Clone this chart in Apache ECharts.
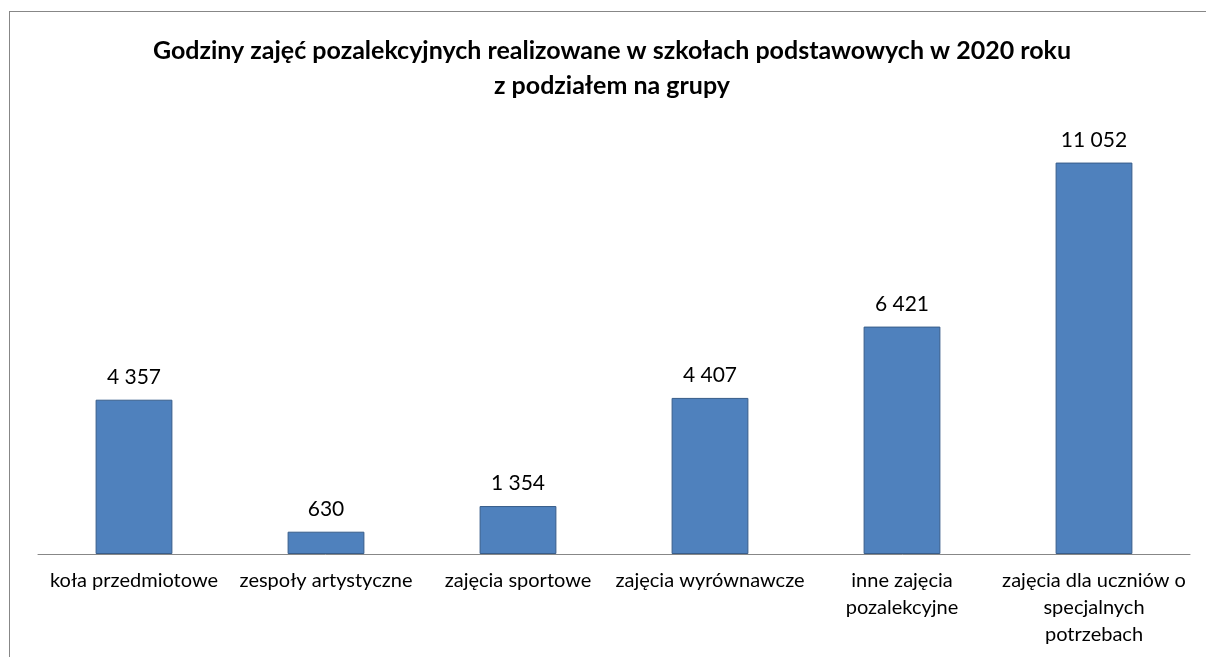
<!DOCTYPE html>
<html>
<head>
<meta charset="utf-8">
<script src="https://cdn.jsdelivr.net/npm/echarts@6/dist/echarts.min.js"></script>
<style>
  html, body { margin: 0; padding: 0; background: #fff; }
  #frame {
    position: absolute; left: 9px; top: 11px; width: 1220px; height: 700px;
    border: 1px solid #878787; box-sizing: border-box;
  }
  #chart { position: absolute; left: 0; top: 0; width: 1206px; height: 657px; }
</style>
</head>
<body>
<div id="frame"></div>
<div id="chart"></div>
<script>
var categories = ['koła przedmiotowe', 'zespoły artystyczne', 'zajęcia sportowe',
  'zajęcia wyrównawcze', 'inne zajęcia\npozalekcyjne', 'zajęcia dla uczniów o\nspecjalnych\npotrzebach'];
var hours = [4357, 630, 1354, 4407, 6421, 11052];

var titleText = 'Godziny zajęć pozalekcyjnych realizowane w szkołach podstawowych w 2020 roku\nz podziałem na grupy';
var fontName = 'Lato, "Open Sans", sans-serif';

function fmt(v) {
  return String(v).replace(/\B(?=(\d{3})+(?!\d))/g, ' ');
}

var myChart = echarts.init(document.getElementById('chart'), null, { renderer: 'canvas' });
var option = {
  animation: false,
  title: {
    text: titleText,
    left: 607,
    top: 28,
    textAlign: 'center',
    textStyle: {
      fontFamily: fontName,
      fontSize: 25,
      fontWeight: 'bold',
      color: '#000',
      lineHeight: 35
    }
  },
  grid: { left: 38, right: 16, top: 129, bottom: 103 },
  xAxis: {
    type: 'category',
    data: categories,
    axisLine: { lineStyle: { color: '#878787', width: 1 } },
    axisTick: { show: false },
    axisLabel: {
      interval: 0,
      margin: 13,
      color: '#000',
      fontFamily: fontName,
      fontSize: 20,
      lineHeight: 27
    }
  },
  yAxis: {
    type: 'value',
    min: 0,
    max: 12000,
    show: false,
    splitLine: { show: false }
  },
  series: [{
    type: 'bar',
    data: hours,
    barWidth: '40%',
    itemStyle: { color: '#4F81BD', borderColor: '#385D8A', borderWidth: 1 },
    label: {
      show: true,
      position: 'top',
      distance: 12,
      color: '#000',
      fontFamily: fontName,
      fontSize: 21,
      formatter: function (p) { return fmt(p.value); }
    }
  }]
};
myChart.setOption(option);
</script>
</body>
</html>
